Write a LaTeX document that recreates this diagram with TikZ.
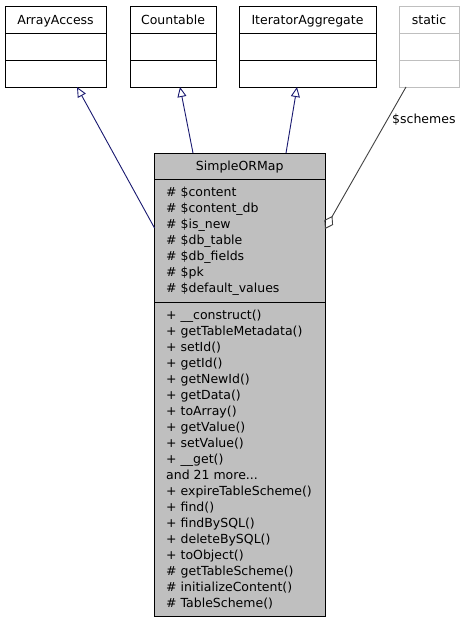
\documentclass[tikz,border=0pt]{standalone}
\usepackage{fontspec}
\setmainfont{DejaVu Sans}
\usetikzlibrary{arrows.meta}
\definecolor{navyline}{HTML}{191970}
\definecolor{greyline}{HTML}{404040}
\definecolor{greyfill}{HTML}{BFBFBF}
\definecolor{lightborder}{HTML}{BFBFBF}
\newcommand\moremembers{and 21 more...}
\tikzset{
  box/.style={draw=black, line width=1pt, fill=white, inner sep=0pt, outer sep=0pt, anchor=north west},
  mainbox/.style={box, fill=greyfill},
  staticbox/.style={box, draw=lightborder},
  sep/.style={line width=1pt},
  title/.style={anchor=base, inner sep=0pt, font=\fontsize{12.5}{15}\selectfont},
  member/.style={anchor=base west, inner sep=0pt, font=\fontsize{12.5}{15}\selectfont},
  inherit/.style={draw=navyline, line width=0.9pt, -{Triangle[open, length=10pt, width=9pt, line width=0.9pt]}},
  aggreg/.style={draw=greyline, line width=0.9pt, {Diamond[open, length=15pt, width=10pt, line width=0.9pt]}-},
}
\begin{document}
\begin{tikzpicture}[x=1pt, y=-1pt]
\useasboundingbox (0,0) rectangle (463,624);
% top boxes
\node[box, minimum width=101pt, minimum height=81pt] (aa) at (5,6) {};
\draw[sep] ([yshift=-27pt]aa.north west) -- ([yshift=-27pt]aa.north east);
\draw[sep] ([yshift=-54pt]aa.north west) -- ([yshift=-54pt]aa.north east);
\node[title] (aat) at (55.5,24.5) {ArrayAccess};

\node[box, minimum width=86pt, minimum height=81pt] (cnt) at (130,6) {};
\draw[sep] ([yshift=-27pt]cnt.north west) -- ([yshift=-27pt]cnt.north east);
\draw[sep] ([yshift=-54pt]cnt.north west) -- ([yshift=-54pt]cnt.north east);
\node[title] (cntt) at (173,24.5) {Countable};

\node[box, minimum width=137pt, minimum height=81pt] (itr) at (239,6) {};
\draw[sep] ([yshift=-27pt]itr.north west) -- ([yshift=-27pt]itr.north east);
\draw[sep] ([yshift=-54pt]itr.north west) -- ([yshift=-54pt]itr.north east);
\node[title] (itrt) at (307.5,24.5) {IteratorAggregate};

\node[staticbox, minimum width=60pt, minimum height=81pt] (st) at (399,6) {};
\draw[sep, lightborder] ([yshift=-27pt]st.north west) -- ([yshift=-27pt]st.north east);
\draw[sep, lightborder] ([yshift=-54pt]st.north west) -- ([yshift=-54pt]st.north east);
\node[title] (stt) at (429,24.5) {static};

% main box
\node[mainbox, minimum width=170.5pt, minimum height=463pt] (main) at (154.5,153) {};
\draw[sep] ([yshift=-26pt]main.north west) -- ([yshift=-26pt]main.north east);
\draw[sep] ([yshift=-149pt]main.north west) -- ([yshift=-149pt]main.north east);
\node[title] (maint) at (239.75,170.7) {SimpleORMap};

% attributes
\foreach \t [count=\i from 0] in {\# \$content, \# \$content\_db, \# \$is\_new, \# \$db\_table, \# \$db\_fields, \# \$pk, \# \$default\_values}{
  \node[member] (attr\i) at (166,196.7+16*\i) {\t};
}
% methods
\foreach \t [count=\i from 0] in {+ \_\_construct(), + getTableMetadata(), + setId(), + getId(), + getNewId(), + getData(), + toArray(), + getValue(), + setValue(), + \_\_get(), \moremembers, + expireTableScheme(), + find(), + findBySQL(), + deleteBySQL(), + toObject(), \# getTableScheme(), \# initializeContent(), \# TableScheme()}{
  \node[member] (meth\i) at (166,319.3+16*\i) {\t};
}

% inheritance
\draw[inherit] ([yshift=156.5pt]main.west) -- ([xshift=21.5pt]aa.south);
\draw[inherit] ([xshift=-46.75pt]main.north) -- ([xshift=7pt]cnt.south);
\draw[inherit] ([xshift=46.25pt]main.north) -- ([xshift=-10.5pt]itr.south);
% aggregation
\draw[aggreg] ([yshift=155.5pt]main.east) -- ([xshift=-23pt]st.south);
\node[member] (schemes) at (392,123.3) {\$schemes};
\end{tikzpicture}
\end{document}
